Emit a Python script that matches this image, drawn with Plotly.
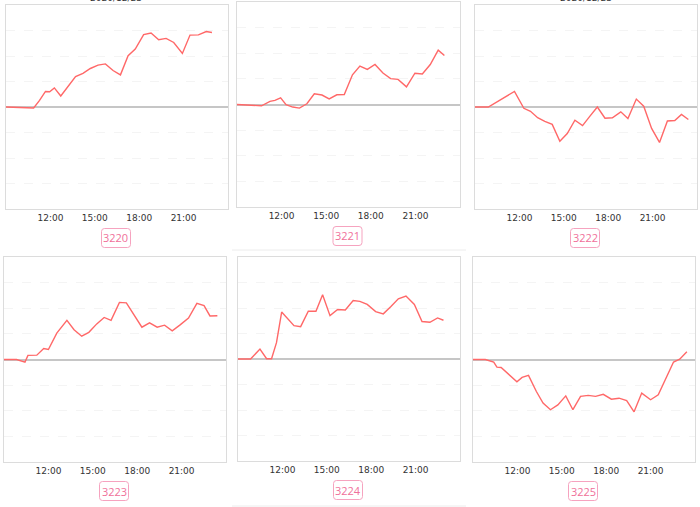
import plotly.graph_objects as go

W, H = 700, 507
DATE = "2020-12-23 "

names = ["3220", "3221", "3222", "3223", "3224", "3225"]

times_3220 = ["09:00", "10:52", "11:16", "11:40", "11:57", "12:16", "12:42", "13:14", "13:42", "14:12",
              "14:42", "15:13", "15:43", "16:14", "16:44", "17:15", "17:44", "18:18", "18:48", "19:19",
              "19:49", "20:20", "20:55", "21:26", "22:00", "22:32", "22:55"]
values_3220 = [0, -0.04, 0.26, 0.61, 0.60, 0.75, 0.43, 0.86, 1.19, 1.32, 1.51, 1.64, 1.69, 1.43, 1.26,
               2.01, 2.27, 2.84, 2.90, 2.64, 2.69, 2.53, 2.10, 2.82, 2.83, 2.96, 2.92]

times_3221 = ["09:00", "10:39", "11:13", "11:33", "11:56", "12:18", "12:45", "13:12", "13:42", "14:12",
              "14:43", "15:12", "15:43", "16:13", "16:46", "17:16", "17:46", "18:17", "18:49", "19:20",
              "19:50", "20:24", "20:58", "21:28", "22:00", "22:32", "22:57"]
values_3221 = [0, -0.05, 0.12, 0.16, 0.26, -0.01, -0.10, -0.14, 0.03, 0.42, 0.37, 0.22, 0.38, 0.39,
               1.16, 1.50, 1.37, 1.56, 1.23, 1.01, 0.98, 0.69, 1.22, 1.19, 1.56, 2.12, 1.91]

times_3222 = ["09:00", "09:54", "11:40", "12:18", "12:45", "13:14", "13:43", "14:13", "14:44", "15:14",
              "15:45", "16:16", "16:46", "17:16", "17:47", "18:17", "18:51", "19:20", "19:54", "20:24",
              "20:56", "21:28", "22:00", "22:30", "22:57", "23:25"]
values_3222 = [0, 0, 0.61, -0.05, -0.17, -0.42, -0.56, -0.68, -1.34, -1.04, -0.52, -0.73, -0.36, 0,
               -0.44, -0.42, -0.19, -0.45, 0.31, 0.03, -0.84, -1.39, -0.55, -0.53, -0.29, -0.49]

times_3223 = ["09:00", "09:51", "10:25", "10:37", "11:13", "11:41", "12:00", "12:34", "13:15", "13:44",
              "14:15", "14:44", "15:16", "15:46", "16:14", "16:48", "17:16", "17:45", "18:19", "18:50",
              "19:21", "19:51", "20:22", "20:54", "21:28", "22:02", "22:31", "22:55", "23:25"]
values_3223 = [0, 0, -0.10, 0.16, 0.17, 0.43, 0.39, 1.03, 1.53, 1.16, 0.91, 1.06, 1.39, 1.64, 1.53,
               2.23, 2.21, 1.79, 1.26, 1.43, 1.26, 1.34, 1.12, 1.35, 1.62, 2.19, 2.10, 1.70, 1.71]

times_3224 = ["09:00", "09:51", "10:29", "10:56", "11:16", "11:36", "11:57", "12:47", "13:14", "13:45",
              "14:16", "14:43", "15:13", "15:44", "16:15", "16:47", "17:14", "17:44", "18:18", "18:49",
              "19:20", "19:50", "20:21", "20:55", "21:26", "21:58", "22:29", "22:53"]
values_3224 = [0, 0, 0.39, 0.01, 0.01, 0.64, 1.84, 1.31, 1.27, 1.87, 1.87, 2.52, 1.70, 1.94, 1.92,
               2.29, 2.26, 2.14, 1.86, 1.77, 2.06, 2.36, 2.47, 2.14, 1.47, 1.44, 1.61, 1.52]

times_3225 = ["09:00", "09:50", "10:24", "10:37", "10:54", "11:25", "11:58", "12:19", "12:45", "13:17",
              "13:44", "14:14", "14:44", "15:16", "15:45", "16:16", "16:47", "17:17", "17:48", "18:21",
              "18:52", "19:23", "19:53", "20:24", "21:00", "21:31", "22:01", "22:33", "22:58", "23:27"]
values_3225 = [0, 0, -0.10, -0.30, -0.31, -0.57, -0.87, -0.70, -0.62, -1.25, -1.70, -1.96, -1.77,
               -1.42, -1.96, -1.44, -1.40, -1.44, -1.36, -1.55, -1.51, -1.60, -2.04, -1.31, -1.57,
               -1.38, -0.79, -0.10, 0.01, 0.30]

tick_labels = ["12:00", "15:00", "18:00", "21:00"]
title_text = "2020/12/23"

series_times = [times_3220, times_3221, times_3222, times_3223, times_3224, times_3225]
series_values = [values_3220, values_3221, values_3222, values_3223, values_3224, values_3225]

# plot-area boxes in pixels: (left, right, top, bottom)
boxes = [(6, 228, 5, 209), (237, 460, 2, 207), (475, 697, 5, 209),
         (4, 226, 257, 462), (238, 460, 257, 461), (473, 695, 257, 462)]

LINE = "#ff6868"
PINK_TXT = "#f0709a"
PINK_BORDER = "#f6a3bf"

fig = go.Figure()
shapes = []
annotations = []

def px(x):
    return x / W

def py(y):
    return 1 - y / H

for i, (name, ts, vs, box) in enumerate(zip(names, series_times, series_values, boxes)):
    sfx = "" if i == 0 else str(i + 1)
    fig.add_trace(go.Scatter(
        x=[DATE + t for t in ts], y=vs, mode="lines",
        line=dict(color=LINE, width=1.4),
        xaxis="x" + sfx, yaxis="y" + sfx, showlegend=False, hoverinfo="skip"))
    l, r, t, b = box
    fig.update_layout(**{
        "xaxis" + sfx: dict(
            domain=[px(l), px(r)], anchor="y" + sfx, type="date",
            range=["2020-12-23 09:00", "2020-12-24 00:00"],
            tickvals=[DATE + s for s in tick_labels], ticktext=tick_labels,
            showgrid=False, zeroline=False, showline=True, mirror=True,
            linecolor="#dcdcdc", linewidth=1, ticks="",
            tickfont=dict(size=9, color="#333333", family="DejaVu Sans"),
            fixedrange=True),
        "yaxis" + sfx: dict(
            domain=[py(b), py(t)], anchor="x" + sfx, range=[-4, 4], dtick=1,
            showticklabels=False, ticks="", showgrid=True, gridcolor="#f4f4f4",
            griddash="dash", gridwidth=1, zeroline=True, zerolinecolor="#c6c6c6",
            zerolinewidth=2, showline=True, mirror=True, linecolor="#dcdcdc",
            linewidth=1, fixedrange=True),
    })
    # rounded label box
    cx = (l + r) / 2 - 1
    cy = b + 29
    bw, bh, rad = 29, 19, 3
    x0, x1 = cx - bw / 2, cx + bw / 2
    y0, y1 = cy - bh / 2, cy + bh / 2
    path = (f"M {px(x0 + rad)},{py(y0)} L {px(x1 - rad)},{py(y0)} "
            f"Q {px(x1)},{py(y0)} {px(x1)},{py(y0 + rad)} "
            f"L {px(x1)},{py(y1 - rad)} Q {px(x1)},{py(y1)} {px(x1 - rad)},{py(y1)} "
            f"L {px(x0 + rad)},{py(y1)} Q {px(x0)},{py(y1)} {px(x0)},{py(y1 - rad)} "
            f"L {px(x0)},{py(y0 + rad)} Q {px(x0)},{py(y0)} {px(x0 + rad)},{py(y0)} Z")
    shapes.append(dict(type="path", xref="paper", yref="paper", path=path,
                       line=dict(color=PINK_BORDER, width=1), fillcolor="white"))
    annotations.append(dict(text=name, xref="paper", yref="paper", x=px(cx), y=py(cy),
                            xanchor="center", yanchor="middle", showarrow=False,
                            font=dict(size=11, color=PINK_TXT, family="Open Sans")))

# chart titles, mostly above the visible area as in the reference
for cx in (116, 586):
    annotations.append(dict(text=title_text, xref="paper", yref="paper", x=px(cx), y=1,
                            xanchor="center", yanchor="middle", yshift=2, showarrow=False,
                            font=dict(size=9, color="#333333", family="DejaVu Sans")))

# faint separators in the middle column
for yy in (250, 506):
    shapes.append(dict(type="line", xref="paper", yref="paper", x0=px(232), x1=px(466),
                       y0=py(yy), y1=py(yy), line=dict(color="#ececec", width=1)))

fig.update_layout(width=W, height=H, margin=dict(l=0, r=0, t=0, b=0),
                  paper_bgcolor="white", plot_bgcolor="white",
                  shapes=shapes, annotations=annotations, showlegend=False)

fig.write_html("out.html", config={"displayModeBar": False, "staticPlot": True},
               post_script="document.body.style.margin='0';document.body.style.padding='0';")
